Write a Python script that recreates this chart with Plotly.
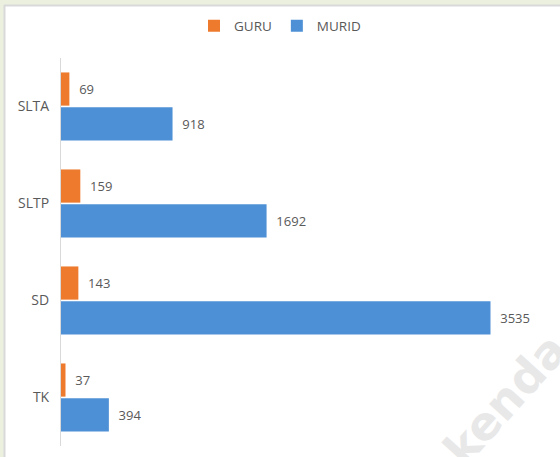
import plotly.graph_objects as go

categories = ["TK", "SD", "SLTP", "SLTA"]
guru = [37, 143, 159, 69]
murid = [394, 3535, 1692, 918]

W, H = 560, 457
ML, MR, MT, MB = 61, 13, 58, 11
PW, PH = W - ML - MR, H - MT - MB


def px(x):
    return (x - ML) / PW


def py(y):
    return 1 - (y - MT) / PH


fig = go.Figure()
fig.add_trace(go.Bar(
    y=categories, x=murid, name="MURID", orientation="h",
    marker=dict(color="#4E90D6", line=dict(width=0)),
    texttemplate="\u00a0\u00a0%{x}", textposition="outside",
    textfont=dict(color="#595959", size=13), cliponaxis=False,
))
fig.add_trace(go.Bar(
    y=categories, x=guru, name="GURU", orientation="h",
    marker=dict(color="#EE7A2E", line=dict(width=0)),
    texttemplate="\u00a0\u00a0%{x}", textposition="outside",
    textfont=dict(color="#595959", size=13), cliponaxis=False,
))

fig.update_layout(
    width=W, height=H,
    margin=dict(l=ML, r=MR, t=MT, b=MB),
    paper_bgcolor="white", plot_bgcolor="white",
    barmode="group", bargap=0.28, bargroupgap=0.05,
    font=dict(family="Open Sans, DejaVu Sans, sans-serif", color="#595959", size=12),
    showlegend=True,
    legend=dict(orientation="h", x=px(280), xanchor="center",
                y=py(26), yanchor="middle", traceorder="reversed",
                bgcolor="rgba(0,0,0,0)",
                font=dict(size=13.5, color="#595959"), itemwidth=30),
    xaxis=dict(range=[0, 4000], showgrid=False, zeroline=False, showticklabels=False,
               showline=False, automargin=False),
    yaxis=dict(categoryorder="array", categoryarray=categories, showgrid=False,
               showline=True, linecolor="#D9D9D9", linewidth=1, automargin=False,
               ticks="", ticklabelstandoff=8, tickfont=dict(size=14, color="#595959")),
)

# page background strips and border
fig.add_shape(type="rect", xref="paper", yref="paper", x0=px(-5), x1=px(W + 5),
              y0=py(5), y1=py(-5), fillcolor="#EBF1DE", line=dict(width=0), layer="below")
fig.add_shape(type="rect", xref="paper", yref="paper", x0=px(-5), x1=px(4),
              y0=py(H + 5), y1=py(-5), fillcolor="#EBF1DE", line=dict(width=0), layer="below")
fig.add_shape(type="line", xref="paper", yref="paper", x0=px(4), x1=px(W + 5),
              y0=py(5.5), y1=py(5.5), line=dict(color="#D9D9D9", width=2), layer="below")
fig.add_shape(type="line", xref="paper", yref="paper", x0=px(4.5), x1=px(4.5),
              y0=py(H + 5), y1=py(5), line=dict(color="#D9D9D9", width=2), layer="below")

fig.add_annotation(text="<b>kenda</b>", xref="paper", yref="paper", x=px(505), y=py(400),
                   xanchor="center", yanchor="middle",
                   showarrow=False, textangle=-48,
                   font=dict(size=46, color="#E8E8E8", family="DejaVu Sans"))

fig.write_html("out.html", config={"displayModeBar": False},
               post_script="document.body.style.margin='0px';")
